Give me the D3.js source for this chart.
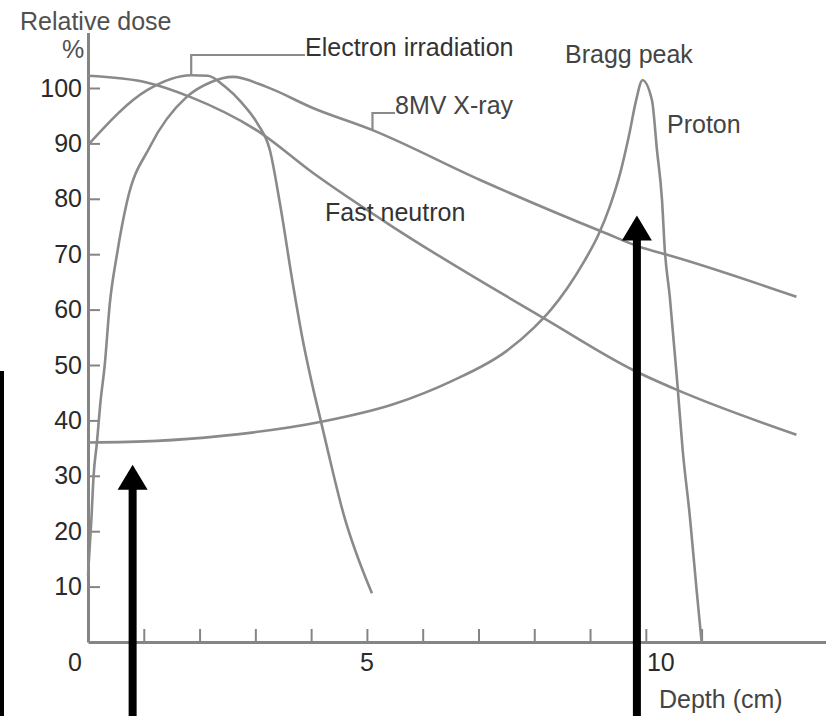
<!DOCTYPE html>
<html>
<head>
<meta charset="utf-8">
<script src="https://cdn.jsdelivr.net/npm/d3@7"></script>
<style>
  html, body { margin: 0; padding: 0; background: #fff; }
  svg { display: block; }
  text { font-family: "Liberation Sans", Arial, sans-serif; }
</style>
</head>
<body>
<svg id="chart" width="826" height="716"></svg>
<script>
// ---------- data (depth in cm, relative dose in %) ----------
const electronDepth = [0, 1.06, 1.85, 2.15, 2.45, 2.75, 3.03, 3.26, 3.44, 3.67, 3.85, 4.03, 4.16, 4.3, 4.57, 5.09];
const electronDose  = [89.7, 99.6, 102.3, 102.2, 100.3, 97.4, 93.7, 88.8, 79.2, 64.8, 54.5, 46, 40.5, 34.5, 23.5, 8.8];

const xrayDepth = [0, 0.06, 0.1, 0.16, 0.22, 0.3, 0.39, 0.52, 0.7, 1.11, 1.77, 2.19, 2.6, 3.2, 4.03, 5.1, 7.03, 9.23, 9.95, 10.38, 12.7];
const xrayDose  = [12, 22, 30, 36, 43, 50, 61, 70, 79.5, 89.4, 98.4, 101, 102, 100.2, 96.4, 92.4, 83.4, 74.0, 71.1, 69.9, 62.3];

const neutronDepth = [0, 1.05, 1.83, 3.08, 4.03, 5.47, 8.23, 9.77, 10.56, 12.7];
const neutronDose  = [102.2, 101, 98.4, 92, 84.7, 74.9, 58.1, 49.1, 45.5, 37.4];

const protonDepth = [0, 1.24, 2.4, 4.16, 5.5, 6.5, 7.5, 8.0, 8.3, 8.6, 8.9, 9.15, 9.35, 9.55, 9.7, 9.82, 9.94, 10.11, 10.2, 10.29, 10.34, 10.43, 10.56, 10.66, 10.79, 10.91, 11.0];
const protonDose  = [36, 36.3, 37.2, 39.7, 43, 47, 52.5, 56.8, 60, 64, 68.8, 73.5, 78.5, 85, 91.5, 97.5, 101.4, 97.8, 88.8, 79.8, 70.8, 62.3, 47.3, 34.7, 22.6, 9.4, 0];

const yTickValues = [10, 20, 30, 40, 50, 60, 70, 80, 90, 100];
const xTickValues = [1, 2, 3, 4, 5, 6, 7, 8, 9, 10, 11];
const xTickLabels = ["0", "5", "10"];
const xLabelValues = [0, 5, 10];

const arrowDepths = [0.8, 9.84];
const arrowDoses  = [32, 77];

// ---------- layout ----------
const svg = d3.select("#chart");
const W = 826, H = 716;
const x = d3.scaleLinear().domain([0, 13.23]).range([88, 826]);
const y = d3.scaleLinear().domain([0, 110]).range([642, 32.6]);

const gray = "#8a8a8a";
const axisGray = "#858585";
const FS = 25;

svg.append("rect").attr("width", W).attr("height", H).attr("fill", "#fff");

// left edge dark bar
svg.append("rect").attr("x", 0).attr("y", 371).attr("width", 4).attr("height", H - 371).attr("fill", "#000");

// ---------- axes ----------
const yAxis = d3.axisLeft(y).tickValues(yTickValues).tickSize(-12).tickSizeOuter(0).tickPadding(6);
const gy = svg.append("g").attr("transform", `translate(${x(0)},0)`).call(yAxis);
gy.select(".domain").attr("stroke", axisGray).attr("stroke-width", 3);
gy.selectAll(".tick line").attr("stroke", axisGray).attr("stroke-width", 2);
gy.selectAll(".tick text").attr("font-size", FS).attr("fill", "#2a2a2a")
  .attr("font-family", "Liberation Sans, Arial, sans-serif");

const xAxis = d3.axisBottom(x).tickValues(xTickValues).tickSize(-13).tickSizeOuter(0).tickFormat("");
const gx = svg.append("g").attr("transform", `translate(0,${y(0)})`).call(xAxis);
gx.select(".domain").attr("stroke", axisGray).attr("stroke-width", 3);
gx.selectAll(".tick line").attr("stroke", axisGray).attr("stroke-width", 2);

// x labels
const xLabelShift = [-13, 0, 15];
svg.selectAll(".xlab").data(xLabelValues).enter().append("text")
  .attr("class", "xlab")
  .attr("x", (d, i) => x(d) + xLabelShift[i])
  .attr("y", 671)
  .attr("text-anchor", "middle")
  .attr("font-size", FS).attr("fill", "#2a2a2a")
  .text((d, i) => xTickLabels[i]);

// ---------- curves ----------
const line = d3.line().x(d => x(d[0])).y(d => y(d[1])).curve(d3.curveMonotoneX);
const series = [
  d3.zip(electronDepth, electronDose),
  d3.zip(xrayDepth, xrayDose),
  d3.zip(neutronDepth, neutronDose),
  d3.zip(protonDepth, protonDose)
];
svg.selectAll(".curve").data(series).enter().append("path")
  .attr("class", "curve")
  .attr("d", line)
  .attr("fill", "none")
  .attr("stroke", gray)
  .attr("stroke-width", 2.6)
  .attr("stroke-linejoin", "round");

// ---------- leader lines ----------
svg.append("path")
  .attr("d", `M305,55 H${x(1.85)} V74`)
  .attr("fill", "none").attr("stroke", gray).attr("stroke-width", 2.2);
svg.append("path")
  .attr("d", `M395,113 H${x(5.1)} V130`)
  .attr("fill", "none").attr("stroke", gray).attr("stroke-width", 2.2);

// ---------- text labels ----------
const labels = [
  { t: "Relative dose", x: 20, y: 30, c: "#505050" },
  { t: "%", x: 62, y: 58, c: "#505050" },
  { t: "Electron irradiation", x: 305, y: 56, c: "#333" },
  { t: "Bragg peak", x: 565, y: 63, c: "#444" },
  { t: "8MV X-ray", x: 395, y: 114, c: "#444" },
  { t: "Proton", x: 667, y: 133, c: "#444" },
  { t: "Fast neutron", x: 325, y: 221, c: "#333" },
  { t: "Depth (cm)", x: 659, y: 708, c: "#444" }
];
svg.selectAll(".lab").data(labels).enter().append("text")
  .attr("class", "lab")
  .attr("x", d => d.x).attr("y", d => d.y)
  .attr("font-size", FS).attr("fill", d => d.c)
  .text(d => d.t);

// ---------- arrows ----------
const arrows = d3.zip(arrowDepths, arrowDoses);
const ag = svg.selectAll(".arrow").data(arrows).enter().append("g").attr("class", "arrow");
ag.append("rect")
  .attr("x", d => x(d[0]) - 4).attr("width", 8)
  .attr("y", d => y(d[1]) + 20).attr("height", d => H - y(d[1]) - 20)
  .attr("fill", "#000");
ag.append("path")
  .attr("d", d => {
    const cx = x(d[0]), ty = y(d[1]);
    return `M${cx},${ty} L${cx + 15},${ty + 25} L${cx - 15},${ty + 25} Z`;
  })
  .attr("fill", "#000");
</script>
</body>
</html>
